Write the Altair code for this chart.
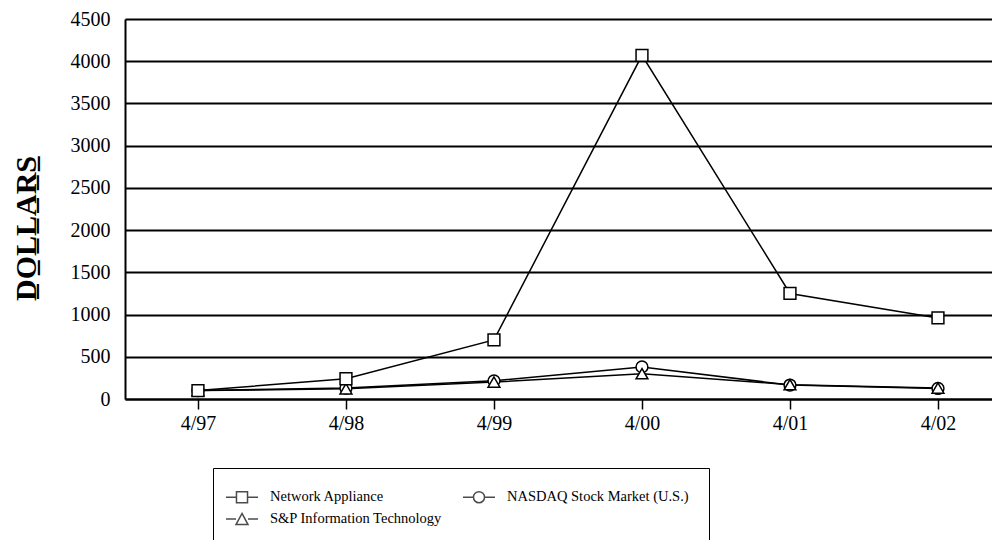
import json
import altair as alt
import pandas as pd

# ---- data ----
x_labels = ["4/97", "4/98", "4/99", "4/00", "4/01", "4/02"]
series_names = ["Network Appliance", "NASDAQ Stock Market (U.S.)", "S&P Information Technology"]
netapp = [100, 240, 700, 4070, 1250, 960]
nasdaq = [100, 130, 215, 380, 165, 125]
sp_it = [100, 120, 200, 300, 170, 130]
y_ticks = [0, 500, 1000, 1500, 2000, 2500, 3000, 3500, 4000, 4500]

# draw order: circles first, then triangles, squares on top
rows = []
for name, vals in [(series_names[1], nasdaq), (series_names[2], sp_it), (series_names[0], netapp)]:
    for i, v in enumerate(vals):
        rows.append({"series": name, "idx": i, "label": x_labels[i], "value": v})
df = pd.DataFrame(rows)

FONT = "Liberation Serif"
label_expr = json.dumps(x_labels) + "[datum.value]"
# legend grid fills column-wise: this order gives row 1 = NetApp, NASDAQ; row 2 = S&P
legend_order = [series_names[0], series_names[2], series_names[1]]

x_enc = alt.X(
    "idx:Q",
    scale=alt.Scale(domain=[-0.493, 5.365], nice=False, zero=False),
    axis=alt.Axis(
        values=list(range(len(x_labels))), labelExpr=label_expr, title=None,
        grid=False, domain=True, domainColor="black", domainWidth=2,
        ticks=True, tickColor="black", tickWidth=1.5, tickSize=10,
        labelFont=FONT, labelFontSize=20, labelColor="black", labelPadding=4,
        labelAngle=0,
    ),
)
y_enc = alt.Y(
    "value:Q",
    scale=alt.Scale(domain=[0, 4500], nice=False),
    axis=alt.Axis(
        values=y_ticks, format="d", title="D\u0332O\u0332L\u0332L\u0332A\u0332R\u0332S\u0332",
        grid=True, gridColor="black", gridWidth=2, gridOpacity=1,
        domain=True, domainColor="black", domainWidth=2, ticks=False,
        labelFont=FONT, labelFontSize=20, labelColor="black", labelPadding=15,
        titleFont=FONT, titleFontSize=30, titleFontWeight="bold", titleColor="black",
        titleX=-90, titleY=209, titleAlign="center", titleBaseline="alphabetic", titleAngle=270,
    ),
)

base = alt.Chart(df)

lines = base.mark_line(color="black", strokeWidth=1.5).encode(
    x=x_enc, y=y_enc, detail="series:N", order="idx:Q"
)

points = base.mark_point(fill="white", stroke="black", strokeWidth=1.5, size=140, opacity=1).encode(
    x=x_enc, y=y_enc,
    shape=alt.Shape("series:N", legend=None,
                    scale=alt.Scale(domain=series_names, range=["square", "circle", "triangle-up"])),
)

# legend symbols: marker with a short line through it
legend_shapes = [
    "M-2,0H-0.69M0.69,0H2M-0.69,-0.69H0.69V0.69H-0.69Z",
    "M-2,0H-0.75M0.75,0H2M0,-0.69L0.75,0.69H-0.75Z",
    "M-2,0H-0.69M0.69,0H2M0.69,0A0.69,0.69 0 1,1 -0.69,0A0.69,0.69 0 1,1 0.69,0Z",
]

legend_layer = base.transform_filter("datum.value < 0").mark_point(
    fill="white", stroke="black", strokeWidth=1.5
).encode(
    x=x_enc, y=y_enc,
    shape=alt.Shape(
        "series:N",
        scale=alt.Scale(domain=legend_order, range=legend_shapes),
        legend=alt.Legend(
            title=None, orient="none", legendX=88, legendY=449, columns=2,
            columnPadding=17, rowPadding=4, padding=20, strokeColor="black",
            symbolSize=256,
            labelFont=FONT, labelFontSize=14.5, labelColor="black", labelOffset=19,
            labelLimit=400,
        ),
    ),
)

chart = alt.layer(lines, points, legend_layer).resolve_scale(shape="independent").properties(
    width=867, height=380,
    autosize=alt.AutoSizeParams(type="none"),
    padding={"left": 117, "top": 11, "right": 0, "bottom": 141},
).configure_view(stroke=None).configure(background="white")

chart.save("out.html", embed_options={"renderer": "svg", "actions": False})
